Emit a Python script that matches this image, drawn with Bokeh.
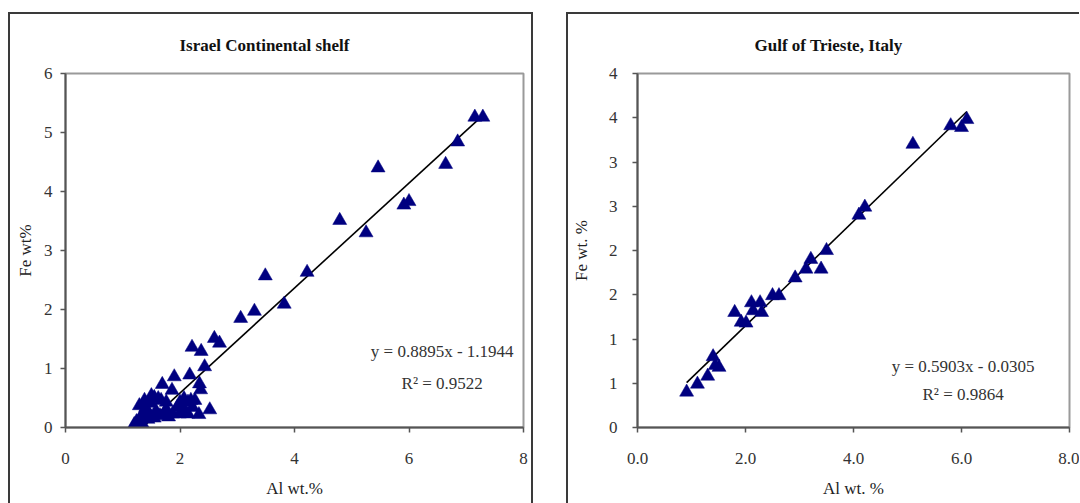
from bokeh.plotting import figure
from bokeh.layouts import row
from bokeh.models import Range1d, FixedTicker, Label, CustomJSTickFormatter
from bokeh.embed import file_html
from bokeh.resources import INLINE

# ---------------- data: Israel Continental shelf ----------------
israel_al = [7.15, 7.29, 6.85, 6.64, 5.46, 5.91, 6.00, 4.79, 5.25, 4.22, 3.49, 3.82,
             3.30, 3.06, 2.60, 2.69, 2.21, 2.37, 2.43, 1.90, 2.17, 1.69, 2.34, 2.36,
             1.86, 1.55, 1.49, 1.67, 2.07, 2.19, 1.40, 2.52, 2.33, 1.34, 1.24, 1.30,
             1.58, 1.76, 1.95, 2.07, 2.22, 1.72, 1.87, 1.99, 2.14, 1.44, 1.55, 1.38,
             1.50, 1.62, 1.76, 2.00, 2.14, 2.26, 1.29, 1.65, 1.80, 2.05, 1.45, 1.35, 1.20]
israel_fe = [5.26, 5.26, 4.84, 4.46, 4.40, 3.77, 3.83, 3.51, 3.30, 2.63, 2.57, 2.09,
             1.97, 1.85, 1.51, 1.43, 1.36, 1.29, 1.03, 0.86, 0.89, 0.73, 0.74, 0.64,
             0.63, 0.51, 0.41, 0.46, 0.49, 0.46, 0.34, 0.30, 0.22, 0.22, 0.10, 0.15,
             0.28, 0.31, 0.34, 0.31, 0.34, 0.23, 0.23, 0.23, 0.23, 0.14, 0.16, 0.46,
             0.54, 0.49, 0.43, 0.43, 0.43, 0.46, 0.37, 0.20, 0.18, 0.27, 0.25, 0.05, 0.05]
israel_slope, israel_intercept = 0.8895, -1.1944
israel_title = "Israel Continental shelf"
israel_eq = "y = 0.8895x - 1.1944"
israel_r2 = "R\u00b2 = 0.9522"
israel_x_ticks = [0, 2, 4, 6, 8]
israel_x_labels = ["0", "2", "4", "6", "8"]
israel_y_ticks = [0, 1, 2, 3, 4, 5, 6]
israel_y_labels = ["0", "1", "2", "3", "4", "5", "6"]

# ---------------- data: Gulf of Trieste ----------------
trieste_al = [0.91, 1.11, 1.30, 1.40, 1.44, 1.51, 1.80, 1.92, 2.01, 2.11, 2.27, 2.14,
              2.30, 2.50, 2.62, 2.92, 3.12, 3.21, 3.40, 3.50, 4.10, 4.21, 5.10, 5.80,
              6.00, 6.10]
trieste_fe = [0.40, 0.49, 0.58, 0.80, 0.70, 0.68, 1.30, 1.19, 1.18, 1.41, 1.41, 1.32,
              1.30, 1.49, 1.49, 1.69, 1.79, 1.90, 1.79, 2.00, 2.40, 2.49, 3.20, 3.41,
              3.39, 3.48]
trieste_slope, trieste_intercept = 0.5903, -0.0305
trieste_title = "Gulf of Trieste, Italy"
trieste_eq = "y = 0.5903x - 0.0305"
trieste_r2 = "R\u00b2 = 0.9864"
trieste_x_ticks = [0, 2, 4, 6, 8]
trieste_x_labels = ["0.0", "2.0", "4.0", "6.0", "8.0"]
trieste_y_ticks = [0, 0.5, 1.0, 1.5, 2.0, 2.5, 3.0, 3.5, 4.0]
trieste_y_labels = ["0", "1", "1", "2", "2", "3", "3", "4", "4"]

FONT = "Liberation Serif"
NAVY = "#000080"

FMT_CODE = """
let best = 0, bd = Infinity;
for (let i = 0; i < tvals.length; i++) {
  const d = Math.abs(tvals[i] - tick);
  if (d < bd) { bd = d; best = i; }
}
return tlabels[best];
"""


def make_fig(title, al, fe, slope, intercept, eq, r2, xt, xl, yt, yl, ymax,
             xlabel, ylabel, width, height, mb, title_standoff, title_offset,
             eq_pos, r2_pos, ylab_standoff, ylab_axis_standoff, styles, margin):
    p = figure(width=width, height=height, output_backend="svg", toolbar_location=None,
               x_range=Range1d(0, 8), y_range=Range1d(0, ymax),
               min_border_left=mb[0], min_border_right=mb[1],
               min_border_top=mb[2], min_border_bottom=mb[3],
               background_fill_color="white", border_fill_color="white",
               margin=margin)
    p.styles = styles
    p.title.text = title
    p.title.text_font = FONT
    p.title.text_font_size = "17px"
    p.title.text_font_style = "bold"
    p.title.text_color = "#111111"
    p.title.align = "left"
    p.title.offset = title_offset
    p.title.standoff = title_standoff
    p.grid.visible = False
    p.outline_line_color = "#9a9a9a"
    p.outline_line_width = 2

    for ax in (p.xaxis[0], p.yaxis[0]):
        ax.axis_line_color = "#555555"
        ax.axis_line_width = 2
        ax.major_tick_line_color = "#555555"
        ax.major_tick_line_width = 1.5
        ax.major_tick_out = 5
        ax.major_tick_in = 0
        ax.minor_tick_line_color = None
        ax.major_label_text_font = FONT
        ax.major_label_text_font_size = "17px"
        ax.major_label_text_color = "#333333"
        ax.axis_label_text_font = FONT
        ax.axis_label_text_font_size = "17px"
        ax.axis_label_text_font_style = "normal"
        ax.axis_label_text_color = "#222222"

    p.xaxis[0].ticker = FixedTicker(ticks=xt)
    p.xaxis[0].formatter = CustomJSTickFormatter(args=dict(tvals=xt, tlabels=xl), code=FMT_CODE)
    p.yaxis[0].ticker = FixedTicker(ticks=yt)
    p.yaxis[0].formatter = CustomJSTickFormatter(args=dict(tvals=yt, tlabels=yl), code=FMT_CODE)
    p.xaxis[0].axis_label = xlabel
    p.yaxis[0].axis_label = ylabel
    p.xaxis[0].major_label_standoff = 20
    p.xaxis[0].axis_label_standoff = 12
    p.yaxis[0].major_label_standoff = ylab_standoff
    p.yaxis[0].axis_label_standoff = ylab_axis_standoff

    x0, x1 = min(al), max(al)
    p.line([x0, x1], [slope * x0 + intercept, slope * x1 + intercept],
           line_color="black", line_width=1.6)
    p.scatter(al, fe, marker="triangle", size=14, fill_color=NAVY,
              line_color=NAVY, line_width=0.5)

    for txt, pos in ((eq, eq_pos), (r2, r2_pos)):
        p.add_layout(Label(x=pos[0], y=pos[1], text=txt, text_font=FONT,
                           text_font_size="17px", text_color="#333333",
                           text_align="center", text_baseline="middle"))
    return p


border = "2px solid #3a3a3a"
p1 = make_fig(israel_title, israel_al, israel_fe, israel_slope,
              israel_intercept, israel_eq, israel_r2, israel_x_ticks, israel_x_labels,
              israel_y_ticks, israel_y_labels, 6, "Al wt.%", "Fe wt%",
              525, 491, (55, 12, 58, 78), 38, 114, (6.58, 1.29), (6.58, 0.74), 8, 6,
              {"border-top": border, "border-left": border, "border-right": border},
              (12, 0, 0, 8))
p2 = make_fig(trieste_title, trieste_al, trieste_fe, trieste_slope,
              trieste_intercept, trieste_eq, trieste_r2, trieste_x_ticks, trieste_x_labels,
              trieste_y_ticks, trieste_y_labels, 4, "Al wt. %", "Fe wt. %",
              513, 491, (62, 12, 58, 78), 38, 117, (6.03, 0.69), (6.03, 0.37), 15, 15,
              {"border-top": border, "border-left": border},
              (12, 0, 0, 33))

layout = row(p1, p2)
open("out.html", "w").write(file_html(layout, INLINE))
